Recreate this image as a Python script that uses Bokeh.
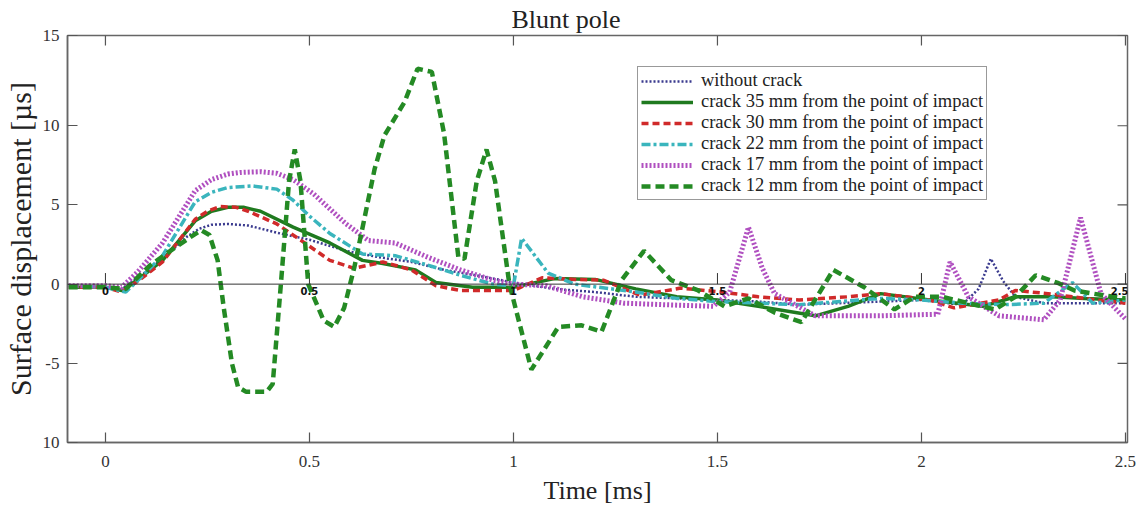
from bokeh.plotting import figure
from bokeh.models import Range1d, FixedTicker, Span, Legend, LegendItem, LabelSet, ColumnDataSource
from bokeh.core.properties import value
from bokeh.embed import file_html
from bokeh.resources import INLINE

# ---------------- data ----------------
x_ticks = [0, 0.5, 1, 1.5, 2, 2.5]
x_tick_labels = ["0", "0.5", "1", "1.5", "2", "2.5"]
y_ticks = [-10, -5, 0, 5, 10, 15.7]
y_tick_labels = ["10", "-5", "0", "5", "10", "15"]

t_nocrack = [-0.09, 0.0, 0.04, 0.08, 0.14, 0.2, 0.23, 0.26, 0.3, 0.35, 0.42, 0.5, 0.59, 0.67, 0.75, 0.83,
             0.91, 1.0, 1.1, 1.2, 1.3, 1.4, 1.5, 1.6, 1.7, 1.8, 1.9, 2.0, 2.1, 2.14, 2.17, 2.2, 2.23, 2.3,
             2.4, 2.5]
v_nocrack = [-0.1, -0.1, -0.3, 0.4, 1.6, 3.0, 3.5, 3.75, 3.8, 3.7, 3.25, 2.8, 2.1, 1.7, 1.4, 0.9,
             0.55, 0.1, -0.3, -0.5, -0.8, -0.9, -1.0, -1.1, -1.3, -1.2, -1.1, -1.0, -1.3, -0.3, 1.6, 0.2,
             -0.8, -1.2, -1.2, -1.2]

t_35 = [-0.09, 0.0, 0.04, 0.08, 0.14, 0.22, 0.26, 0.3, 0.34, 0.38, 0.46, 0.55, 0.63, 0.68, 0.76, 0.81,
        0.9, 1.0, 1.1, 1.2, 1.3, 1.4, 1.5, 1.6, 1.74, 1.82, 1.9, 2.02, 2.15, 2.23, 2.32, 2.4, 2.5]
v_35 = [-0.2, -0.2, -0.4, 0.3, 1.5, 4.0, 4.6, 4.85, 4.85, 4.6, 3.6, 2.6, 1.5, 1.3, 0.9, 0.1,
        -0.2, -0.2, 0.35, 0.3, -0.3, -0.8, -1.0, -1.4, -2.0, -1.4, -0.6, -1.0, -1.4, -0.8, -0.8, -0.9, -1.0]

t_30 = [-0.09, 0.0, 0.04, 0.08, 0.14, 0.22, 0.25, 0.28, 0.32, 0.35, 0.42, 0.48, 0.55, 0.61, 0.68, 0.75,
        0.81, 0.87, 1.0, 1.07, 1.15, 1.22, 1.31, 1.41, 1.51, 1.6, 1.7, 1.82, 1.9, 2.02, 2.08, 2.19, 2.23,
        2.31, 2.43, 2.5]
v_30 = [-0.2, -0.2, -0.5, 0.2, 1.4, 4.1, 4.6, 4.9, 4.85, 4.6, 3.8, 2.75, 1.5, 1.0, 1.4, 0.9,
        -0.1, -0.4, -0.4, 0.4, 0.3, 0.25, -0.7, -0.25, -0.5, -0.8, -1.0, -0.8, -0.6, -1.0, -1.5, -1.0, -0.4,
        -0.6, -1.0, -1.2]

t_22 = [-0.09, 0.0, 0.05, 0.09, 0.14, 0.22, 0.26, 0.3, 0.36, 0.42, 0.46, 0.5, 0.55, 0.63, 0.71, 0.79,
        0.87, 0.95, 1.0, 1.02, 1.085, 1.15, 1.3, 1.4, 1.5, 1.6, 1.7, 1.8, 1.9, 2.0, 2.1, 2.2, 2.3, 2.37,
        2.42, 2.5]
v_22 = [-0.1, -0.2, -0.5, 0.5, 1.8, 5.2, 5.8, 6.1, 6.2, 6.0, 5.3, 4.3, 3.2, 1.9, 1.8, 1.2,
        0.56, 0.0, -0.1, 2.9, 0.7, 0.0, -0.5, -0.9, -1.1, -1.2, -1.3, -1.1, -0.9, -1.0, -1.2, -1.3, -1.2, 0.1,
        -1.2, -1.0]

t_17 = [-0.09, 0.0, 0.04, 0.08, 0.14, 0.22, 0.26, 0.3, 0.33, 0.38, 0.42, 0.46, 0.51, 0.59, 0.645, 0.71,
        0.79, 0.87, 0.95, 1.0, 1.08, 1.17, 1.27, 1.37, 1.49, 1.53, 1.576, 1.61, 1.64, 1.74, 1.9, 2.04,
        2.07, 2.115, 2.19, 2.3, 2.34, 2.39, 2.44, 2.5]
v_17 = [-0.1, -0.1, -0.2, 0.8, 2.6, 5.9, 6.6, 6.95, 7.05, 7.1, 7.0, 6.6, 5.7, 3.8, 2.75, 2.6,
        1.7, 0.9, 0.25, 0.0, -0.1, -0.8, -1.2, -1.3, -1.4, -0.5, 3.6, 1.0, -0.6, -2.0, -2.0, -1.9,
        1.4, -0.8, -2.0, -2.25, -1.0, 4.2, -0.6, -2.2]

t_12 = [-0.09, 0.0, 0.05, 0.11, 0.17, 0.21, 0.235, 0.255, 0.275, 0.29, 0.31, 0.325, 0.345, 0.395, 0.41,
        0.43, 0.45, 0.464, 0.478, 0.497, 0.535, 0.561, 0.585, 0.61, 0.66, 0.684, 0.733, 0.765, 0.8, 0.83,
        0.865, 0.88, 0.91, 0.934, 0.955, 0.99, 1.044, 1.11, 1.167, 1.216, 1.265, 1.32, 1.387, 1.453,
        1.517, 1.576, 1.64, 1.706, 1.784, 1.86, 1.934, 1.983, 2.05, 2.18, 2.23, 2.28, 2.336, 2.375,
        2.42, 2.5]
v_12 = [-0.2, -0.2, -0.3, 1.2, 2.3, 3.0, 3.4, 3.1, 1.5, -1.5, -5.0, -6.5, -6.8, -6.8, -6.3,
        0.0, 6.5, 8.5, 6.5, 0.0, -2.3, -2.7, -1.5, 1.06, 7.3, 9.4, 11.5, 13.6, 13.4, 9.5,
        1.7, 1.6, 6.5, 8.5, 6.5, 0.0, -5.4, -2.7, -2.6, -3.0, 0.25, 2.1, 0.25, -0.4,
        -1.4, -0.9, -1.8, -2.4, 0.9, -0.2, -1.6, -0.8, -0.8, -1.6, -0.8, 0.56, 0.06, -0.4,
        -0.6, -0.9]

labels = ["without crack",
          "crack 35 mm from the point of impact",
          "crack 30 mm from the point of impact",
          "crack 22 mm from the point of impact",
          "crack 17 mm from the point of impact",
          "crack 12 mm from the point of impact"]

# ---------------- figure ----------------
SERIF = "Liberation Serif"
X0, X1, Y0, Y1 = -0.093, 2.505, -10, 15.7
p = figure(width=1141, height=507,
           x_range=Range1d(X0, X1), y_range=Range1d(Y0, Y1),
           output_backend="svg", toolbar_location=None,
           min_border_left=66, min_border_right=14, min_border_top=33, min_border_bottom=65)
p.background_fill_color = "white"
p.border_fill_color = "white"
p.outline_line_color = "#666666"
p.outline_line_width = 1.5
p.xgrid.visible = False
p.ygrid.visible = False

p.title.text = "Blunt pole"
p.title.text_font = SERIF
p.title.text_font_size = "26px"
p.title.text_font_style = "normal"
p.title.text_color = "#222222"
p.title.align = "left"
p.title.offset = 444
p.title.standoff = 4

for ax in p.xaxis:
    ax.ticker = FixedTicker(ticks=x_ticks)
    ax.major_label_overrides = dict(zip(x_ticks, x_tick_labels))
    ax.axis_label = "Time [ms]"
    ax.major_label_standoff = 13
    ax.axis_label_standoff = 6
for ax in p.yaxis:
    ax.ticker = FixedTicker(ticks=y_ticks)
    ax.major_label_overrides = dict(zip(y_ticks, y_tick_labels))
    ax.axis_label = "Surface displacement [µs]"
    ax.major_label_standoff = 8
    ax.axis_label_standoff = 3

for ax in list(p.xaxis) + list(p.yaxis):
    ax.major_tick_in = 10
    ax.major_tick_out = 0
    ax.minor_tick_line_color = None
    ax.axis_line_color = "#666666"
    ax.axis_line_width = 1.5
    ax.major_tick_line_color = "#555555"
    ax.major_tick_line_width = 1.2
    ax.major_label_text_font = SERIF
    ax.major_label_text_font_size = "17px"
    ax.major_label_text_color = "#333333"
    ax.axis_label_text_font = SERIF
    ax.axis_label_text_font_style = "normal"
    ax.axis_label_text_color = "#222222"
p.xaxis.axis_label_text_font_size = "26px"
p.yaxis.axis_label_text_font_size = "30px"

# mirrored tick marks on the top and right frame edges
tick_dy = (Y1 - Y0) * 10 / 409
tick_dx = (X1 - X0) * 10 / 1061
p.segment(x0=x_ticks, y0=[Y1] * len(x_ticks), x1=x_ticks, y1=[Y1 - tick_dy] * len(x_ticks),
          line_color="#555555", line_width=1.2)
p.segment(x0=[X1] * len(y_ticks), y0=y_ticks, x1=[X1 - tick_dx] * len(y_ticks), y1=y_ticks,
          line_color="#555555", line_width=1.2)

# zero line with its small ticks and labels
p.add_layout(Span(location=0, dimension="width", line_color="#333333", line_width=1))
p.segment(x0=x_ticks, y0=[0] * len(x_ticks), x1=x_ticks, y1=[0.7] * len(x_ticks),
          line_color="#333333", line_width=1)
zsrc = ColumnDataSource(dict(x=x_ticks[:-1], y=[0] * (len(x_ticks) - 1), t=x_tick_labels[:-1]))
p.add_layout(LabelSet(x="x", y="y", text="t", source=zsrc, text_align="center",
                      text_baseline="top", y_offset=-3, text_font=value("DejaVu Sans"),
                      text_font_size="10px", text_font_style="bold", text_color="#111111"))
zsrc_end = ColumnDataSource(dict(x=x_ticks[-1:], y=[0], t=x_tick_labels[-1:]))
p.add_layout(LabelSet(x="x", y="y", text="t", source=zsrc_end, text_align="right",
                      text_baseline="top", y_offset=-3, x_offset=3, text_font=value("DejaVu Sans"),
                      text_font_size="10px", text_font_style="bold", text_color="#111111"))

# ---------------- series ----------------
r0 = p.line(t_nocrack, v_nocrack, line_color="#3b3b8f", line_width=2.5, line_dash="2 2")
r1 = p.line(t_35, v_35, line_color="#1f7a1f", line_width=3.5)
r2 = p.line(t_30, v_30, line_color="#d02a2a", line_width=3.5, line_dash="7 4")
r3 = p.line(t_22, v_22, line_color="#3ab5bd", line_width=3.5, line_dash="9 3 3 3")
r4 = p.line(t_17, v_17, line_color="#b050c0", line_width=5, line_dash="2 2")
r5 = p.line(t_12, v_12, line_color="#248a24", line_width=4.5, line_dash="9 5")

legend = Legend(items=[LegendItem(label=l, renderers=[r]) for l, r in
                       zip(labels, [r0, r1, r2, r3, r4, r5])],
                location=(570, 242))
legend.label_text_font = SERIF
legend.label_text_font_size = "18.5px"
legend.label_text_color = "#222222"
legend.glyph_width = 52
legend.glyph_height = 18
legend.label_height = 18
legend.spacing = 0
legend.padding = 3
legend.margin = 0
legend.label_standoff = 8
legend.border_line_color = "#333333"
legend.border_line_width = 1.5
legend.background_fill_alpha = 1
p.add_layout(legend)

open("out.html", "w").write(file_html(p, INLINE))
